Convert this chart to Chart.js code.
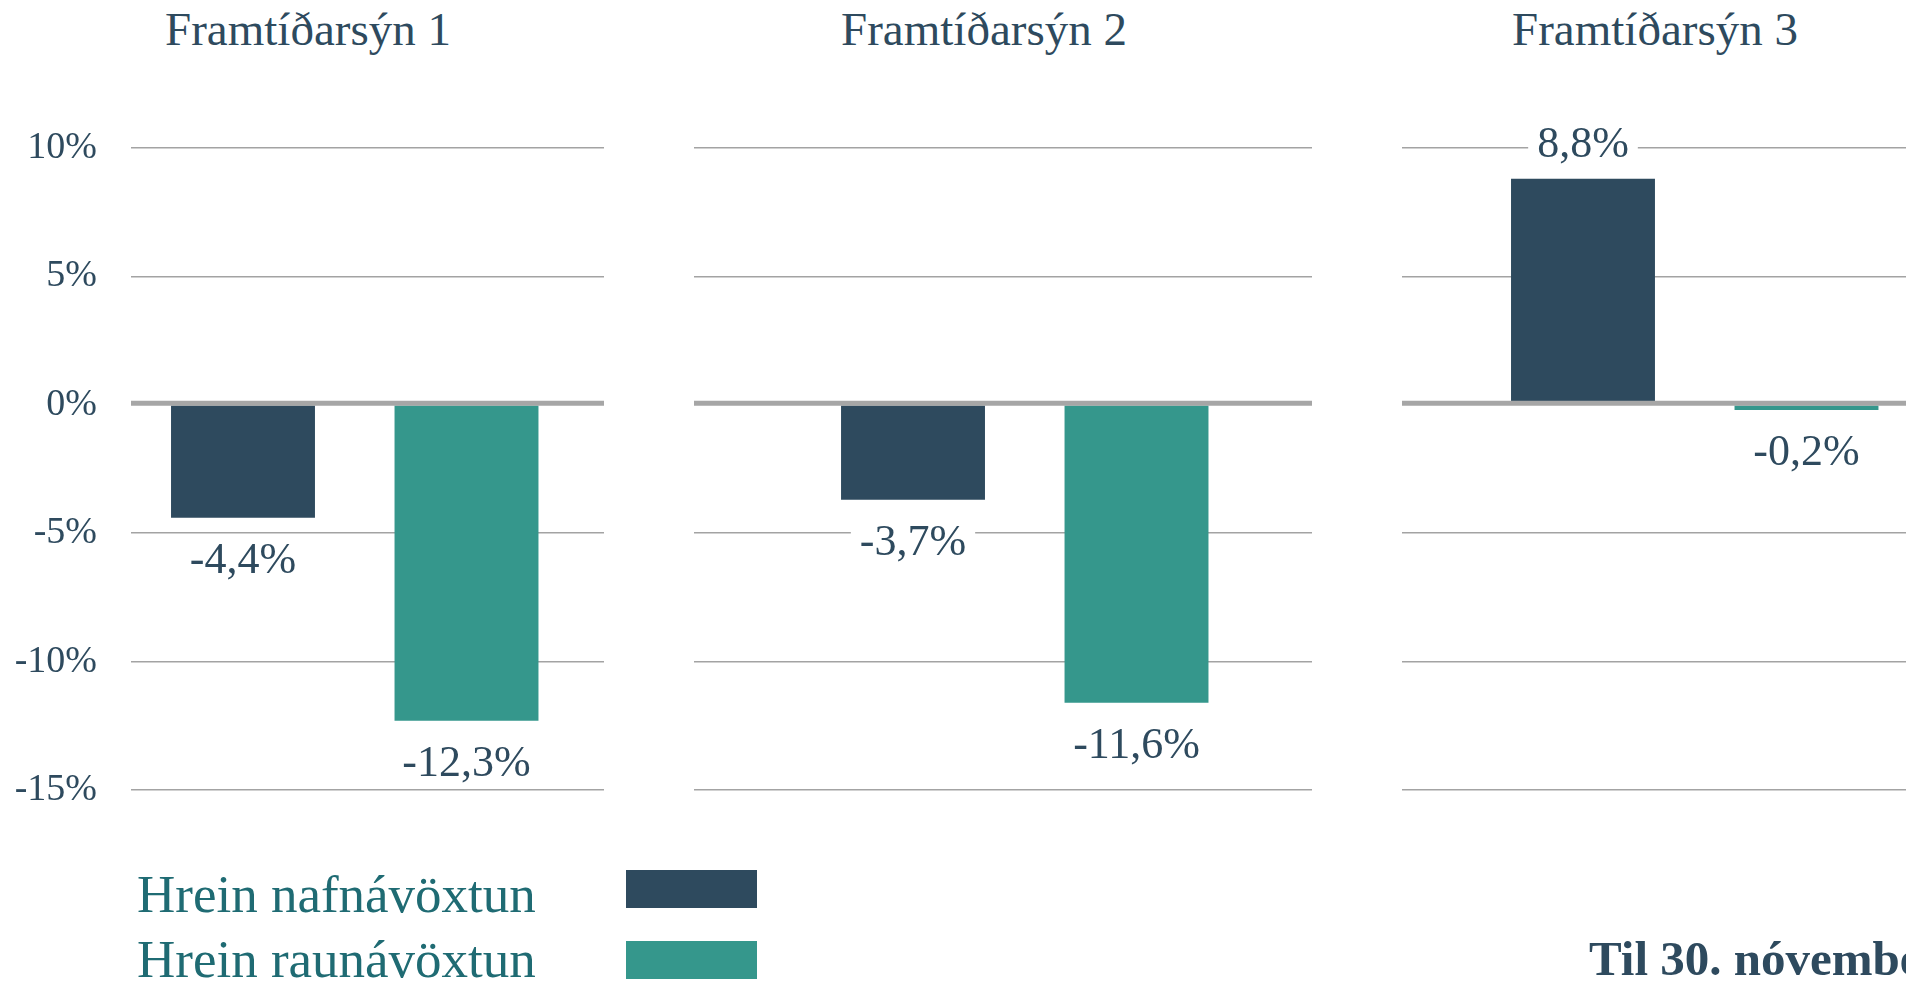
<!DOCTYPE html>
<html>
<head>
<meta charset="utf-8">
<script src="https://cdn.jsdelivr.net/npm/chart.js@4.4.1/dist/chart.umd.min.js"></script>
<style>
html,body{margin:0;padding:0;background:#fff;overflow:hidden;}
#stage{position:relative;width:1906px;height:981px;overflow:hidden;background:#fff;}
.cv{position:absolute;}
.txt{position:absolute;white-space:nowrap;line-height:1;font-family:"Liberation Serif",serif;}
.title{font-size:47px;color:#2e4a5e;transform:translateX(-50%);}
.leg{font-size:53px;color:#1f6b73;}
.sw{position:absolute;}
</style>
</head>
<body>
<div id="stage"></div>
<script>
// ---- data ----
const categories = ['Framtíðarsýn 1', 'Framtíðarsýn 2', 'Framtíðarsýn 3'];
const seriesNames = ['Hrein nafnávöxtun', 'Hrein raunávöxtun'];
const nominal = [-4.4, -3.7, 8.8];
const real = [-12.3, -11.6, -0.2];
const yTickValues = [-15, -10, -5, 0, 5, 10];
const footnote = 'Til 30. nóvember';

// ---- styles / layout ----
const DARK = '#2e4a5e';
const TEAL = '#35978c';
const GRID = '#a3a3a3';
const ZERO = '#a6a6a6';
const FONT = '"Liberation Serif", serif';

const panels = [
  {left: 0,    width: 604, axisW: 131, xMin: -0.5011, xMax: 1.6152, titleX: 308},
  {left: 694,  width: 618, axisW: 0,   xMin: -0.9799, xMax: 1.7852, titleX: 984},
  {left: 1402, width: 504, axisW: 0,   xMin: -0.8098, xMax: 1.4452, titleX: 1655}
];
const CANVAS_TOP = 118, CANVAS_H = 702, PAD_V = 30;

const stage = document.getElementById('stage');
function addText(cls, text, left, baseline, size, extra) {
  const d = document.createElement('div');
  d.className = 'txt ' + cls;
  d.textContent = text;
  d.style.left = left + 'px';
  d.style.top = (baseline - 0.8375 * size) + 'px';
  if (extra) Object.assign(d.style, extra);
  stage.appendChild(d);
  return d;
}
function fmt(v) { return v.toFixed(1).replace('.', ',') + '%'; }

const labelPlugin = {
  id: 'barLabels',
  afterDatasetsDraw(chart) {
    const {ctx, chartArea} = chart;
    const y0 = chart.scales.y.getPixelForValue(0);
    ctx.save();
    ctx.strokeStyle = ZERO;
    ctx.lineWidth = 5;
    ctx.beginPath();
    ctx.moveTo(chartArea.left, y0 - 1.5);
    ctx.lineTo(chartArea.right, y0 - 1.5);
    ctx.stroke();
    const meta = chart.getDatasetMeta(0);
    ctx.font = '44px ' + FONT;
    ctx.textAlign = 'center';
    ctx.textBaseline = 'middle';
    meta.data.forEach((bar, i) => {
      const v = chart.data.datasets[0].data[i].y;
      const t = fmt(v);
      const w = ctx.measureText(t).width;
      const cy = v >= 0 ? bar.y - 33 : bar.y + 44;
      ctx.fillStyle = '#fff';
      ctx.fillRect(bar.x - w / 2 - 9, cy - 21, w + 18, 42);
      ctx.fillStyle = DARK;
      ctx.fillText(t, bar.x, cy);
    });
    ctx.restore();
  }
};

panels.forEach((p, i) => {
  const c = document.createElement('canvas');
  c.className = 'cv';
  c.style.left = p.left + 'px';
  c.style.top = CANVAS_TOP + 'px';
  c.style.width = p.width + 'px';
  c.style.height = CANVAS_H + 'px';
  c.width = p.width; c.height = CANVAS_H;
  stage.appendChild(c);

  new Chart(c, {
    type: 'bar',
    data: {
      datasets: [{
        label: categories[i],
        data: [{x: 0, y: nominal[i]}, {x: 1, y: real[i]}],
        backgroundColor: [DARK, TEAL],
        borderWidth: 0,
        barPercentage: 0.644,
        categoryPercentage: 1
      }]
    },
    options: {
      responsive: false,
      animation: false,
      devicePixelRatio: 1,
      layout: {padding: {top: PAD_V, bottom: PAD_V, left: 0, right: 0}},
      plugins: {legend: {display: false}, tooltip: {enabled: false}, title: {display: false}},
      scales: {
        x: {
          type: 'linear', min: p.xMin, max: p.xMax, offset: false, display: false,
          afterBuildTicks(s) { s.ticks = [{value: 0}, {value: 1}]; }
        },
        y: {
          min: -15, max: 10,
          afterBuildTicks(s) { s.ticks = yTickValues.map(v => ({value: v})); },
          afterFit(s) { s.width = p.axisW; s.paddingTop = 0; s.paddingBottom = 0; },
          ticks: {
            display: i === 0,
            padding: 34,
            color: DARK,
            font: {family: FONT, size: 38},
            callback: v => v + '%'
          },
          grid: {
            drawTicks: false,
            lineWidth: 1.5,
            color: ctx => (ctx.tick && ctx.tick.value === 0) ? 'rgba(0,0,0,0)' : GRID
          },
          border: {display: false}
        }
      }
    },
    plugins: [labelPlugin]
  });

  addText('title', categories[i], p.titleX, 45, 47);
});

// legend
addText('leg', seriesNames[0], 137, 912, 53);
addText('leg', seriesNames[1], 137, 977, 53);
[[DARK, 870], [TEAL, 941]].forEach(([col, top]) => {
  const s = document.createElement('div');
  s.className = 'sw';
  Object.assign(s.style, {left: '626px', top: top + 'px', width: '131px', height: '38px', background: col});
  stage.appendChild(s);
});
addText('', footnote, 1589, 975, 49, {fontWeight: 'bold', color: DARK, fontSize: '49px'});
</script>
</body>
</html>
